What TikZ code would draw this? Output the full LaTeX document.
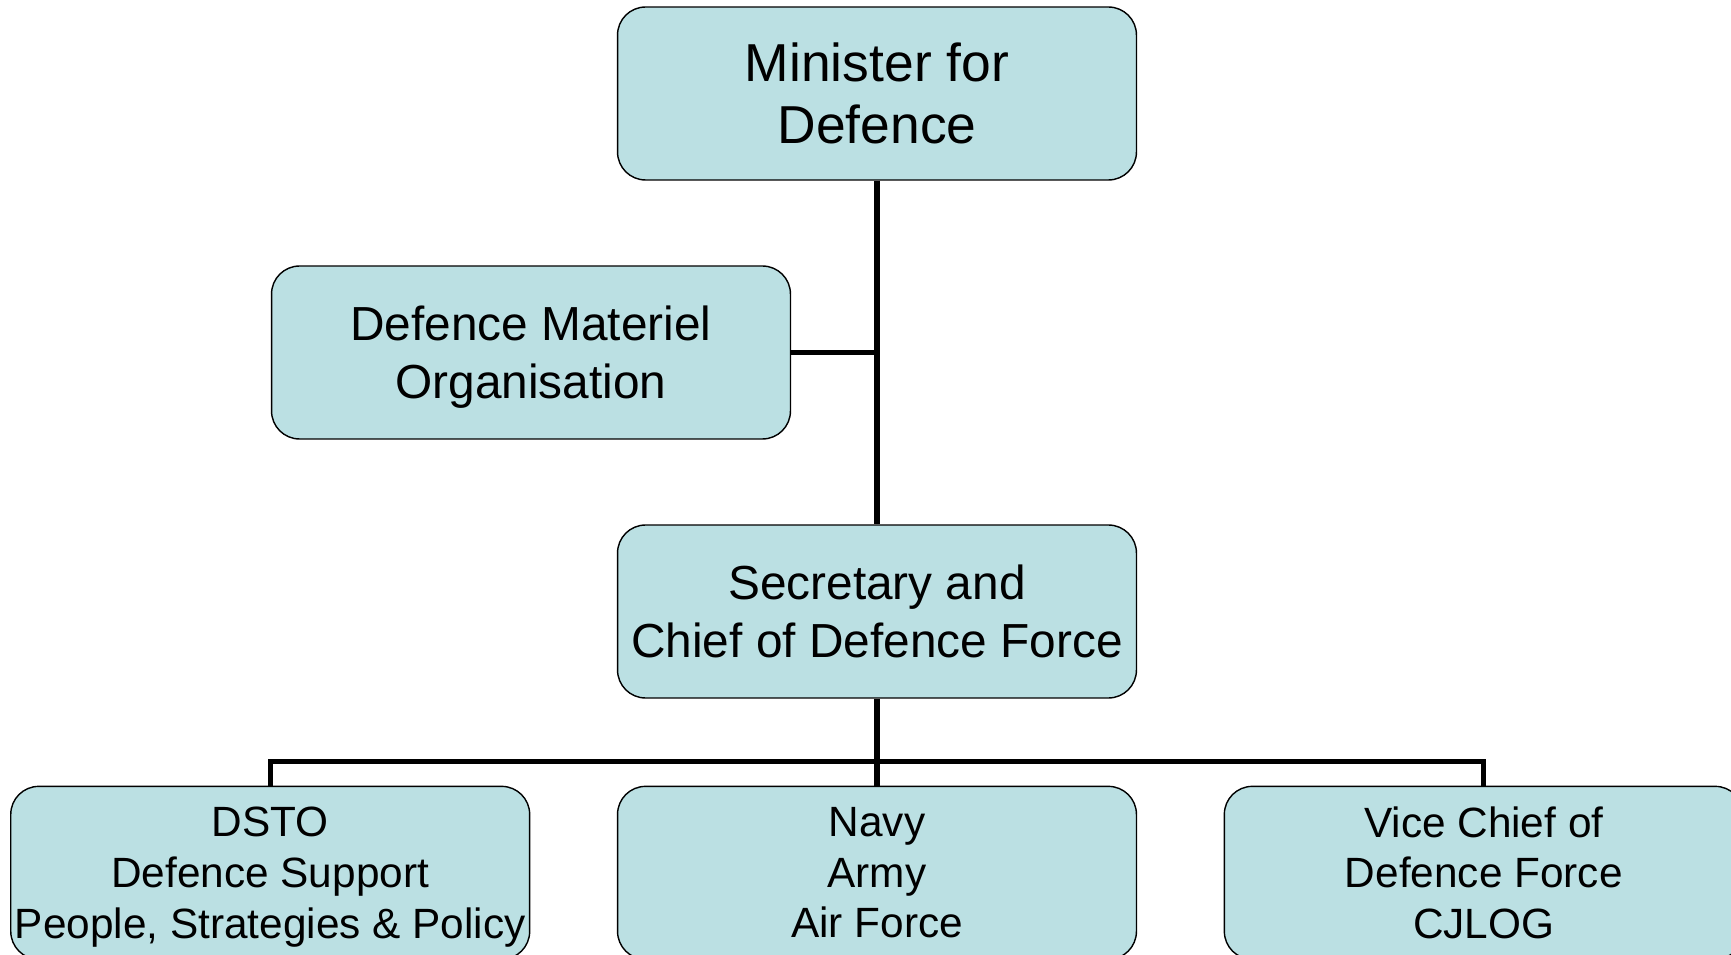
\documentclass[tikz,border=0pt]{standalone}
\usepackage{fontspec}
\setmainfont{Liberation Sans}
\usetikzlibrary{positioning, calc}
\definecolor{orgblue}{RGB}{187, 224, 227}

\tikzset{
  orgbox/.style={draw=black, fill=orgblue, rounded corners=0.56cm, line width=0.8pt,
    minimum width=10.38cm, minimum height=3.46cm, align=center, inner sep=0pt},
  hugetxt/.style={font=\fontsize{30.4}{35.7}\selectfont},
  bigtxt/.style={font=\fontsize{27.2}{33.2}\selectfont},
  smalltxt/.style={font=\fontsize{24.1}{28.9}\selectfont},
  link/.style={line width=3pt}
}

\begin{document}
\begin{tikzpicture}[x=0.02cm, y=0.02cm]
  \useasboundingbox (0,0) rectangle (1731,954);
  \clip (0,0) rectangle (1731,954);

  % top column
  \node[orgbox, hugetxt] (minister) at (877,860.5) {Minister for\\Defence};
  \node[orgbox, bigtxt] (dmo) at (531,601.5) {Defence Materiel\\\smash{Organisation}};
  \node[orgbox, bigtxt] (secretary) at (877,342.5) {Secretary and\\Chief of Defence Force};

  % bottom row
  \node[orgbox, smalltxt, below=1.74cm of secretary] (services) {Navy\\Army\\Air Force};
  \node[orgbox, smalltxt, left=1.73cm of services] (dsto) {DSTO\\Defence Support\\\smash{People, Strategies \& Policy}};
  \node[orgbox, smalltxt, right=1.73cm of services] (vcdf) {Vice Chief of\\Defence Force\\CJLOG};

  % connectors
  \draw[link] (minister.south) -- (secretary.north);
  \draw[link] (dmo.east) -- (dmo.east -| minister.south);
  \coordinate (bus) at ($(secretary.south)!0.72!(services.north)$);
  \draw[link] (secretary.south) -- (services.north);
  \draw[link] (dsto.north) |- (bus) -| (vcdf.north);
\end{tikzpicture}
\end{document}
